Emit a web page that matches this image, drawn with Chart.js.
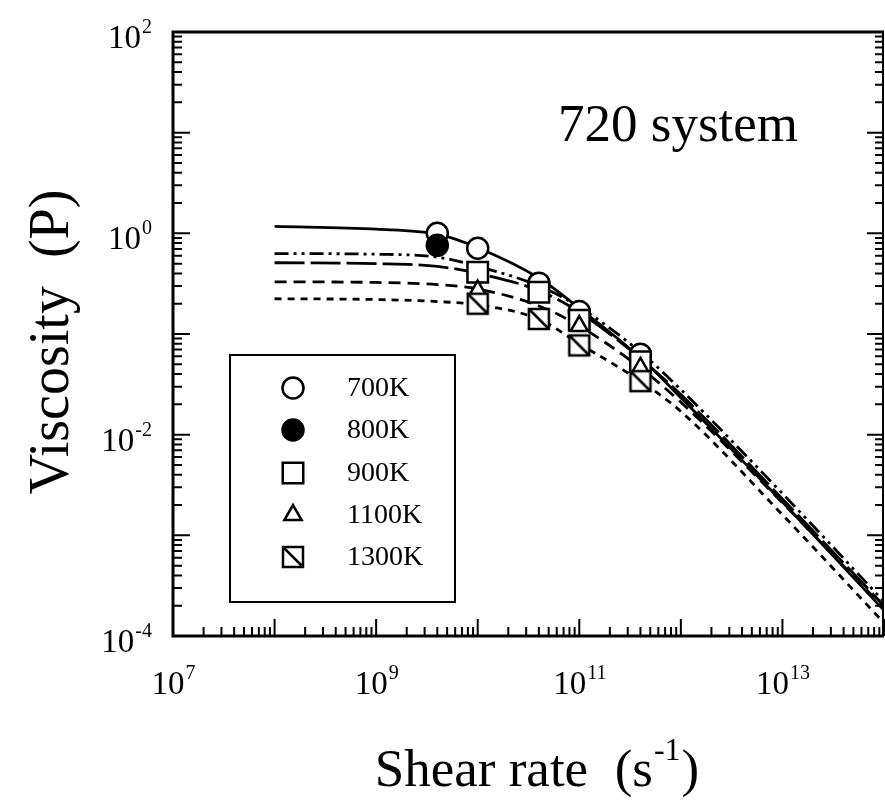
<!DOCTYPE html>
<html lang="en">
<head>
<meta charset="UTF-8">
<title>720 system viscosity</title>
<script src="https://cdn.jsdelivr.net/npm/chart.js@4"></script>
<style>
  body { margin: 0; background: #fff; }
  canvas { display: block; }
</style>
</head>
<body>
<canvas id="viscChart" width="885" height="805"></canvas>
<script>
// temperatures shown in the legend
const tempLabels = ['700K', '800K', '900K', '1100K', '1300K'];

// measured points (shear rate s^-1, viscosity P)
const measShear700 = [4e9, 1e10, 4e10, 1e11, 4e11];
const measVisc700 = [1.0, 0.71, 0.32, 0.167, 0.063];
const measShear800 = [4e9];
const measVisc800 = [0.76];
const measShear900 = [1e10, 4e10, 1e11, 4e11];
const measVisc900 = [0.41, 0.26, 0.137, 0.053];
const measShear1100 = [1e10, 1e11, 4e11];
const measVisc1100 = [0.27, 0.12, 0.046];
const measShear1300 = [1e10, 4e10, 1e11, 4e11];
const measVisc1300 = [0.20, 0.141, 0.077, 0.034];

// fitted curves
const fitShear = [1e8, 1e9, 4e9, 1e10, 4e10, 1e11, 4e11, 1e12, 1e13, 1e14];
const fitVisc700 = [1.17, 1.10, 0.98, 0.72, 0.36, 0.18, 0.058, 0.0233, 0.00214, 0.00018];
const fitVisc800 = [0.63, 0.62, 0.58, 0.47, 0.30, 0.185, 0.066, 0.028, 0.0026, 0.00022];
const fitVisc900 = [0.51, 0.50, 0.47, 0.40, 0.27, 0.165, 0.057, 0.025, 0.0023, 0.0002];
const fitVisc1100 = [0.33, 0.325, 0.31, 0.28, 0.19, 0.12, 0.046, 0.021, 0.0021, 0.00019];
const fitVisc1300 = [0.224, 0.22, 0.21, 0.195, 0.14, 0.08, 0.034, 0.017, 0.0016, 0.000135];

// tick labels (powers of ten)
const xLabelExps = [7, 9, 11, 13];
const yLabelExps = [2, 0, -2, -4];

const SERIF = '"Liberation Serif", "DejaVu Serif", serif';

function pts(xs, ys) {
  return xs.map((x, i) => ({ x: x, y: ys[i] }));
}

// square with a diagonal for 1300K
function hatchedSquare() {
  const c = document.createElement('canvas');
  c.width = 26; c.height = 26;
  const g = c.getContext('2d');
  g.fillStyle = '#fff';
  g.fillRect(3, 3, 20, 20);
  g.strokeStyle = '#000';
  g.lineWidth = 2.5;
  g.strokeRect(3, 3, 20, 20);
  g.beginPath();
  g.moveTo(3, 3);
  g.lineTo(23, 23);
  g.stroke();
  return c;
}
const hatch = hatchedSquare();

const markerStyles = [
  { pointStyle: 'circle', radius: 10.5, fill: '#fff' },
  { pointStyle: 'circle', radius: 10.5, fill: '#000' },
  { pointStyle: 'rect', radius: 14.5, fill: '#fff' },
  { pointStyle: 'triangle', radius: 10, fill: '#fff' },
  { pointStyle: hatch, radius: 13, fill: '#fff' }
];
const lineDashes = [[], [14, 5, 3, 5, 3, 5], [30, 6], [12, 7], [7, 6]];

const measSets = [
  pts(measShear700, measVisc700),
  pts(measShear800, measVisc800),
  pts(measShear900, measVisc900),
  pts(measShear1100, measVisc1100),
  pts(measShear1300, measVisc1300)
];
const fitSets = [fitVisc700, fitVisc800, fitVisc900, fitVisc1100, fitVisc1300];

const datasets = [];
fitSets.forEach((v, i) => {
  datasets.push({
    label: tempLabels[i] + ' fit',
    data: pts(fitShear, v),
    showLine: true,
    borderColor: '#000',
    borderWidth: 2.8,
    borderDash: lineDashes[i],
    pointRadius: 0,
    cubicInterpolationMode: 'monotone',
    order: 20 + i
  });
});
measSets.forEach((d, i) => {
  const m = markerStyles[i];
  datasets.push({
    label: tempLabels[i],
    data: d,
    showLine: false,
    pointStyle: m.pointStyle,
    pointRadius: m.radius,
    pointBackgroundColor: m.fill,
    pointBorderColor: '#000',
    pointBorderWidth: 2.5,
    order: 10 - i
  });
});

function drawPower(ctx, exp, x, y, align, size) {
  const base = '10', sup = String(exp);
  ctx.font = size + 'px ' + SERIF;
  const wb = ctx.measureText(base).width;
  const supSize = Math.round(size * 0.62);
  ctx.font = supSize + 'px ' + SERIF;
  const ws = ctx.measureText(sup).width;
  let x0 = align === 'center' ? x - (wb + ws) / 2 : x - wb - ws;
  ctx.textAlign = 'left';
  ctx.textBaseline = 'alphabetic';
  ctx.font = size + 'px ' + SERIF;
  ctx.fillText(base, x0, y);
  ctx.font = supSize + 'px ' + SERIF;
  ctx.fillText(sup, x0 + wb + 1, y - size * 0.45);
}

const decorations = {
  id: 'decorations',
  afterDraw(chart) {
    const ctx = chart.ctx;
    const xs = chart.scales.x, ys = chart.scales.y;
    const { left, right, top, bottom } = chart.chartArea;
    ctx.save();
    ctx.strokeStyle = '#000';
    ctx.fillStyle = '#000';

    // frame
    ctx.lineWidth = 3;
    ctx.beginPath();
    ctx.moveTo(right, top);
    ctx.lineTo(left, top);
    ctx.lineTo(left, bottom);
    ctx.lineTo(right, bottom);
    ctx.stroke();
    ctx.lineWidth = 2;
    ctx.beginPath();
    ctx.moveTo(right - 1, top);
    ctx.lineTo(right - 1, bottom);
    ctx.stroke();

    // inward ticks
    ctx.lineWidth = 2;
    ctx.beginPath();
    for (let e = 7; e < 14; e++) {
      for (let m = 2; m <= 10; m++) {
        const px = xs.getPixelForValue(m * Math.pow(10, e));
        const len = m === 10 ? 17 : 9;
        ctx.moveTo(px, bottom);
        ctx.lineTo(px, bottom - len);
      }
    }
    for (let e = -4; e < 2; e++) {
      for (let m = 2; m <= 10; m++) {
        const py = ys.getPixelForValue(m * Math.pow(10, e));
        const len = m === 10 ? 17 : 9;
        ctx.moveTo(left, py);
        ctx.lineTo(left + len, py);
        ctx.moveTo(right, py);
        ctx.lineTo(right - len, py);
      }
    }
    ctx.stroke();

    // tick labels
    xLabelExps.forEach(e => {
      drawPower(ctx, e, xs.getPixelForValue(Math.pow(10, e)), 694, 'center', 33);
    });
    yLabelExps.forEach(e => {
      drawPower(ctx, e, 151, ys.getPixelForValue(Math.pow(10, e)) + 16, 'right', 33);
    });

    // axis titles
    ctx.font = '56px ' + SERIF;
    ctx.textBaseline = 'alphabetic';
    ctx.save();
    ctx.translate(68, 342);
    ctx.rotate(-Math.PI / 2);
    ctx.textAlign = 'center';
    ctx.fillText('Viscosity  (P)', 0, 0);
    ctx.restore();

    const t1 = 'Shear rate  (s', t2 = '-1', t3 = ')';
    ctx.font = '53px ' + SERIF;
    const w1 = ctx.measureText(t1).width, w3 = ctx.measureText(t3).width;
    ctx.font = '32px ' + SERIF;
    const w2 = ctx.measureText(t2).width;
    let tx = 536 - (w1 + w2 + w3) / 2;
    ctx.textAlign = 'left';
    ctx.font = '53px ' + SERIF;
    ctx.fillText(t1, tx, 786);
    ctx.font = '32px ' + SERIF;
    ctx.fillText(t2, tx + w1 + 1, 760);
    ctx.font = '53px ' + SERIF;
    ctx.fillText(t3, tx + w1 + w2 + 2, 786);

    // annotation
    ctx.font = '53px ' + SERIF;
    ctx.fillText('720 system', 558, 141);

    // legend box
    ctx.lineWidth = 2;
    ctx.fillStyle = '#fff';
    ctx.fillRect(230, 355, 225, 247);
    ctx.strokeRect(230, 355, 225, 247);
    const rowY = [388, 430, 473, 515, 557];
    tempLabels.forEach((lab, i) => {
      const m = markerStyles[i];
      ctx.fillStyle = m.fill;
      ctx.strokeStyle = '#000';
      ctx.lineWidth = 2.5;
      Chart.helpers.drawPoint(ctx, {
        pointStyle: m.pointStyle, radius: m.radius, borderWidth: 2.5, rotation: 0
      }, 293, rowY[i]);
      ctx.fillStyle = '#000';
      ctx.font = '28px ' + SERIF;
      ctx.textAlign = 'left';
      ctx.textBaseline = 'middle';
      ctx.fillText(lab, 347, rowY[i] + 1);
    });
    ctx.restore();
  }
};

new Chart(document.getElementById('viscChart'), {
  type: 'scatter',
  data: { datasets: datasets },
  options: {
    responsive: false,
    animation: false,
    events: [],
    layout: { autoPadding: false, padding: { left: 173, right: 1, top: 32, bottom: 169 } },
    scales: {
      x: { type: 'logarithmic', min: 1e7, max: 1e14, display: false },
      y: { type: 'logarithmic', min: 1e-4, max: 1e2, display: false }
    },
    plugins: {
      legend: { display: false },
      tooltip: { enabled: false }
    }
  },
  plugins: [decorations]
});
</script>
</body>
</html>
